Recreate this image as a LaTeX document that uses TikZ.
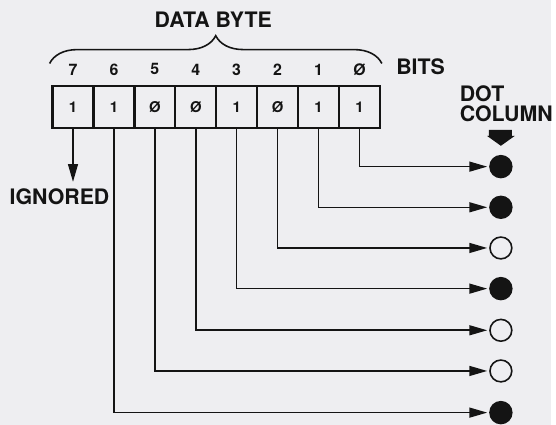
\documentclass[tikz,border=0pt]{standalone}
\usepackage{fontspec}
\setmainfont{TeX Gyre Heros}
\usetikzlibrary{arrows.meta,positioning,decorations.pathreplacing}
\definecolor{paper}{HTML}{EEEEF1}
\definecolor{ink}{HTML}{141414}

\begin{document}
\begin{tikzpicture}[x=1pt,y=-1pt,>={Triangle[length=18pt,width=10pt]},
  every node/.style={text=ink},
  label/.style={font=\fontsize{21.5}{20}\selectfont\bfseries},
  bitnum/.style={font=\fontsize{16}{16}\selectfont\bfseries},
  cell/.style={draw=ink,line width=2.2pt,minimum width=41.25pt,minimum height=42pt,inner sep=0pt,font=\fontsize{15}{15}\selectfont\bfseries},
  wire/.style={draw=ink,line width=1.6pt},
  pixel/.style={circle,draw=ink,line width=1.6pt,minimum size=22pt,inner sep=0pt}]
  \fill[paper] (0,0) rectangle (556,428);
  % data byte
  \node[label] (databyte) at (215,20) {DATA BYTE};
  \draw[wire,decorate,decoration={brace,amplitude=28pt}] (50,64) -- (385,64);
  \node[bitnum] (b7) at (73.6,70) {7};
  \node[bitnum] (b6) at (114.9,70) {6};
  \node[bitnum] (b5) at (156.1,70) {5};
  \node[bitnum] (b4) at (197.4,70) {4};
  \node[bitnum] (b3) at (238.6,70) {3};
  \node[bitnum] (b2) at (279.9,70) {2};
  \node[bitnum] (b1) at (321.1,70) {1};
  \node[bitnum] (b0) at (362.4,70) {Ø};
  \node[label,anchor=west] (bits) at (396,67) {BITS};
  \node[cell] (c7) at (73.6,108) {1};
  \node[cell] (c6) at (114.9,108) {1};
  \node[cell] (c5) at (156.1,108) {Ø};
  \node[cell] (c4) at (197.4,108) {Ø};
  \node[cell] (c3) at (238.6,108) {1};
  \node[cell] (c2) at (279.9,108) {Ø};
  \node[cell] (c1) at (321.1,108) {1};
  \node[cell] (c0) at (362.4,108) {1};
  \node[label] (ignored) at (60,198) {IGNORED};
  % dot column
  \node[label,anchor=west,align=left] (dotcol) at (460,105) {DOT\\COLUMN};
  \fill[ink] (493,131) -- (516,131) -- (516,137) -- (519,137) -- (505,147) -- (491,137) -- (493,137) -- cycle;
  \node[pixel,fill=ink] (d0) at (505,168) {};
  \node[pixel,fill=ink] (d1) at (505,209) {};
  \node[pixel] (d2) at (505,250) {};
  \node[pixel,fill=ink] (d3) at (505,291) {};
  \node[pixel] (d4) at (505,333) {};
  \node[pixel] (d5) at (505,374) {};
  \node[pixel,fill=ink] (d6) at (505,416) {};
  % wiring
  \draw[wire,->,shorten >=3pt] (c7.south) -- (c7.south |- ignored.north);
  \draw[wire,->,shorten >=2pt] (c0.south) |- (d0);
  \draw[wire,->,shorten >=2pt] (c1.south) |- (d1);
  \draw[wire,->,shorten >=2pt] (c2.south) |- (d2);
  \draw[wire,->,shorten >=2pt] (c3.south) |- (d3);
  \draw[wire,->,shorten >=2pt] (c4.south) |- (d4);
  \draw[wire,->,shorten >=2pt] (c5.south) |- (d5);
  \draw[wire,->,shorten >=2pt] (c6.south) |- (d6);
\end{tikzpicture}
\end{document}
